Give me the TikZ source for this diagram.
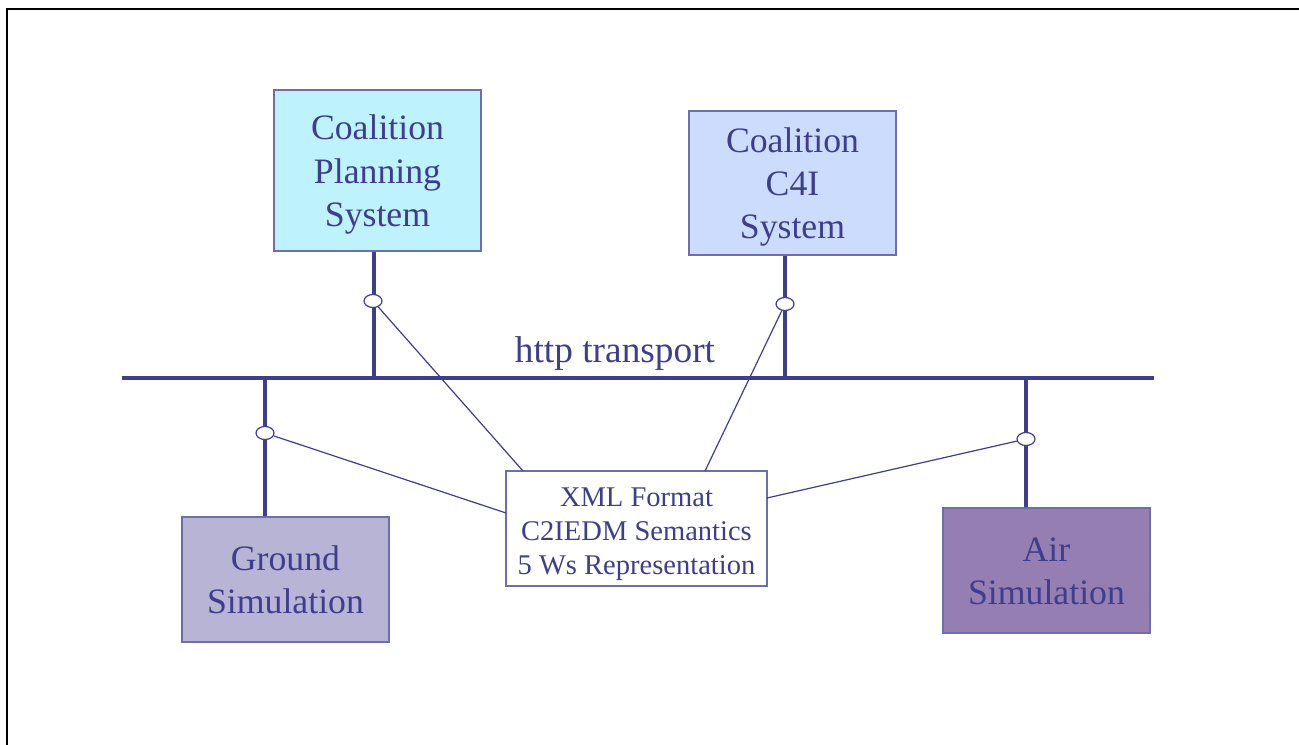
\documentclass[tikz,border=0pt]{standalone}
\usepackage{fontspec}
\setmainfont{Liberation Serif}
\usetikzlibrary{shapes.geometric}
\definecolor{ink}{RGB}{62,62,140}
\definecolor{edge}{RGB}{110,110,170}
\definecolor{planfill}{RGB}{190,242,252}
\definecolor{cfourfill}{RGB}{204,220,252}
\definecolor{groundfill}{RGB}{183,180,214}
\definecolor{airfill}{RGB}{149,126,178}
\tikzset{
  sysbox/.style={draw=edge, line width=0.8pt, inner sep=0pt,
    minimum width=155.25pt},
  systext/.style={text=ink, align=center, inner sep=0pt,
    font=\fontsize{26.8}{32.4}\selectfont},
  msgbox/.style={draw=edge, line width=0.8pt, fill=white, inner sep=0pt,
    minimum width=195.75pt, minimum height=86.25pt},
  msgtext/.style={text=ink, align=center, inner sep=0pt,
    font=\fontsize{21.4}{25.5}\selectfont},
  busline/.style={draw=ink, line width=3pt},
  drop/.style={draw=ink, line width=2.6pt},
  port/.style={ellipse, draw=ink, line width=0.9pt, fill=white, inner sep=0pt,
    minimum width=13.5pt, minimum height=9.8pt},
  link/.style={draw=ink, line width=0.9pt},
  frame/.style={draw=black, line width=2.2pt}
}
\begin{document}
\begin{tikzpicture}[x=0.75pt, y=-0.75pt]
  \useasboundingbox (0,0) rectangle (1299,745);
  % page frame (open on the right and bottom)
  \draw[frame] (1299,9) -- (7,9) -- (7,745);

  % systems
  \node[sysbox, fill=planfill, minimum height=120.75pt] (plan) at (377.5,170.5) {};
  \node[systext] (plantext) at ([yshift=-3pt]plan.center)
    {Coalition\\Planning\\System};
  \node[sysbox, fill=cfourfill, minimum height=108pt] (cfour) at (792.5,183) {};
  \node[systext] (cfourtext) at ([yshift=-3pt]cfour.center)
    {Coalition\\C4I\\System};
  \node[sysbox, fill=groundfill, minimum height=93.75pt] (ground) at (285.5,579.5) {};
  \node[systext] (groundtext) at ([yshift=-0.5pt]ground.center)
    {Ground\\Simulation};
  \node[sysbox, fill=airfill, minimum height=93.75pt] (air) at (1046.5,570.5) {};
  \node[systext] (airtext) at ([yshift=-0.5pt]air.center)
    {Air\\Simulation};

  % message box
  \node[msgbox] (xml) at (636.5,528.5) {};
  \node[msgtext] (xmltext) at ([yshift=-4.5pt]xml.center)
    {XML Format\\C2IEDM Semantics\\5 Ws Representation};

  % transport bus
  \coordinate (busL) at (122,378);
  \coordinate (busR) at (1154,378);
  \draw[busline] (busL) -- (busR);
  \node[text=ink, font=\fontsize{28}{32}\selectfont, anchor=base] (http) at (615,362)
    {http transport};

  % taps on the bus
  \coordinate (tplan) at (374,378);
  \coordinate (tcfour) at (785,378);
  \coordinate (tground) at (265,378);
  \coordinate (tair) at (1026,378);
  \draw[drop] (plan.south -| tplan) -- (tplan);
  \draw[drop] (cfour.south -| tcfour) -- (tcfour);
  \draw[drop] (tground) -- (ground.north -| tground);
  \draw[drop] (tair) -- (air.north -| tair);

  % interface ports
  \node[port] (pplan) at (373,301) {};
  \node[port] (pcfour) at (785,304) {};
  \node[port] (pground) at (265,433) {};
  \node[port] (pair) at (1026,439) {};

  % where the links meet the message box
  \coordinate (xplan) at (523,471);
  \coordinate (xcfour) at (705,471);
  \coordinate (xground) at (506,513);
  \coordinate (xair) at (767,498);
  \draw[link] (pplan) -- (xplan);
  \draw[link] (pcfour) -- (xcfour);
  \draw[link] (pground) -- (xground);
  \draw[link] (pair) -- (xair);
\end{tikzpicture}
\end{document}
